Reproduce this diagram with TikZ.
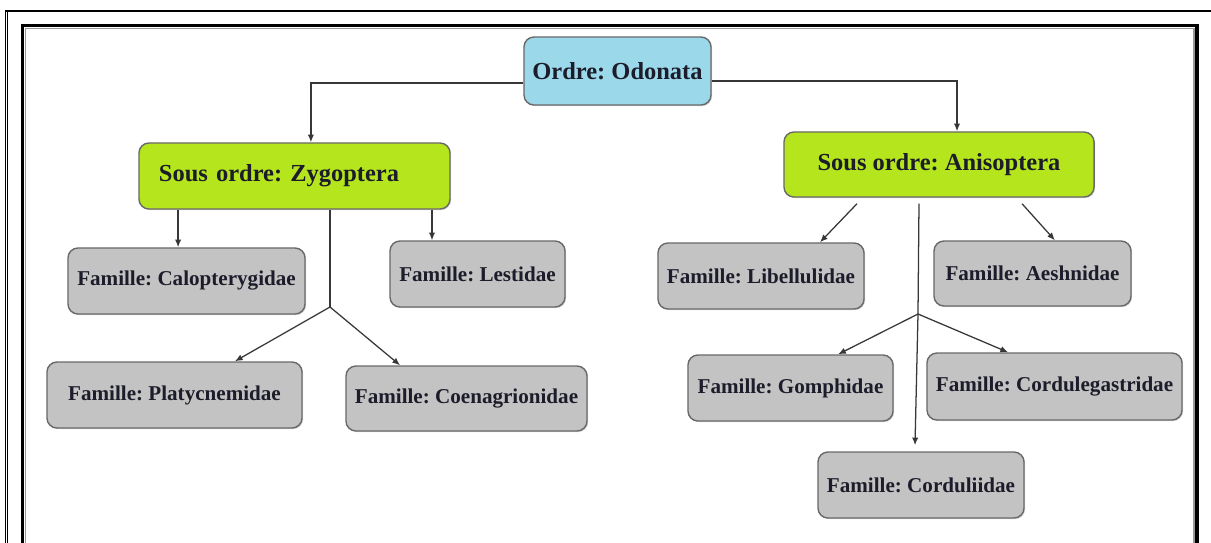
\documentclass[tikz,border=0pt]{standalone}
\usepackage{fontspec}
\setmainfont{Liberation Serif}
\frenchspacing
\usetikzlibrary{arrows.meta,shadows}
\definecolor{rootblue}{RGB}{155,217,234}
\definecolor{subgreen}{RGB}{181,230,29}
\definecolor{famgray}{RGB}{195,195,195}
\definecolor{boxline}{RGB}{105,105,105}
\definecolor{linkgray}{RGB}{55,55,55}
\definecolor{ink}{RGB}{28,28,42}

\begin{document}
\begin{tikzpicture}[
  x=0.025cm,y=-0.025cm,>={Latex[length=5.5pt,width=4.5pt]},
  taxon/.style={draw=boxline,line width=1pt,rounded corners=0.25cm,text=ink,
    drop shadow={shadow xshift=0.8pt,shadow yshift=-0.8pt,opacity=0.35}},
  ordre/.style={taxon,fill=rootblue,font=\fontsize{17.4}{20}\selectfont\bfseries},
  sousordre/.style={taxon,fill=subgreen,font=\fontsize{17.4}{20}\selectfont\bfseries},
  famille/.style={taxon,fill=famgray,minimum height=1.65cm,font=\fontsize{15}{18}\selectfont\bfseries},
  link/.style={draw=linkgray,line width=0.9pt}
]
  \useasboundingbox (0,0) rectangle (1211,542);

  % page frame
  \draw[line width=1.4pt] (5,11) -- (1215,11);
  \draw[line width=0.6pt] (5.5,11) -- (5.5,560);
  \draw[line width=0.6pt] (7.8,11) -- (7.8,560);
  \draw[line width=2.5pt] (22.5,25.5) rectangle (1197,570);
  \draw[black!40,line width=1.2pt] (25.5,28.5) rectangle (1194,570);

  \node[ordre,minimum width=4.675cm,minimum height=1.7cm] (odonata)
    at (617.5,71) {Ordre: Odonata};
  \node[sousordre,minimum height=1.65cm,text width=6.775cm,inner xsep=0.5cm,align=left] (zygo)
    at (294.5,176) {Sous ordre: Zygoptera};
  \node[sousordre,minimum width=7.75cm,minimum height=1.625cm] (aniso)
    at (939,164.5) {Sous ordre: Anisoptera};

  \node[famille,minimum width=5.925cm] (calo) at (186.5,281) {Famille: Calopterygidae};
  \node[famille,minimum width=4.375cm] (lest) at (477.5,274) {Famille: Lestidae};
  \node[famille,minimum width=6.375cm] (platy) at (174.5,395) {Famille: Platycnemidae};
  \node[famille,minimum width=6.025cm,minimum height=1.625cm] (coena) at (466.5,398.5) {Famille: Coenagrionidae};

  \node[famille,minimum width=5.15cm] (libel) at (761,276) {Famille: Libellulidae};
  \node[famille,minimum width=4.925cm,minimum height=1.625cm] (aesh) at (1032.5,273.5) {Famille: Aeshnidae};
  \node[famille,minimum width=5.125cm] (gomph) at (790.5,388) {Famille: Gomphidae};
  \node[famille,minimum width=6.375cm,minimum height=1.675cm] (cordg) at (1054.5,386.5) {Famille: Cordulegastridae};
  \node[famille,minimum width=5.15cm] (cordu) at (921,485) {Famille: Corduliidae};

  \draw[link,->] ([yshift=-0.3cm]odonata.west) -| ([xshift=0.41cm]zygo.north);
  \draw[link,->] ([yshift=-0.25cm]odonata.east) -| ([xshift=0.45cm]aniso.north);

  \coordinate (zl) at (432,0);
  \coordinate (zsplit) at (330,307);
  \draw[link,->] ([xshift=-0.21cm]calo.north |- zygo.south) -- ([xshift=-0.21cm]calo.north);
  \draw[link,->] (zygo.south -| zl) -- (lest.north -| zl);
  \draw[link] (zygo.south -| zsplit) -- (zsplit);
  \draw[link,->] (zsplit) -- ([xshift=1.51cm]platy.north);
  \draw[link,->] (zsplit) -- ([xshift=-1.66cm]coena.north);

  \coordinate (asplit) at (918,314);
  \draw[link,->] ([xshift=-2.05cm,yshift=-0.15cm]aniso.south) -- ([xshift=1.475cm]libel.north);
  \draw[link,->] ([xshift=2.075cm,yshift=-0.15cm]aniso.south) -- ([xshift=0.56cm]aesh.north);
  \draw[link] ([xshift=-0.5cm,yshift=-0.15cm]aniso.south) -- (asplit);
  \draw[link,->] (asplit) -- ([xshift=1.19cm]gomph.north);
  \draw[link,->] (asplit) -- ([xshift=-1.16cm]cordg.north);
  \draw[link,->] (asplit) -- ([xshift=-0.15cm,yshift=0.15cm]cordu.north);
\end{tikzpicture}
\end{document}
